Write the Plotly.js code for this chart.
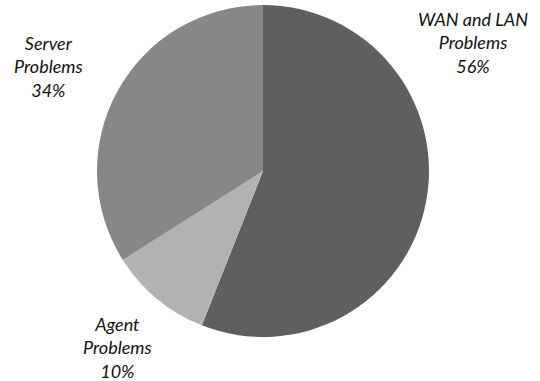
<!DOCTYPE html>
<html>
<head>
<meta charset="utf-8">
<script src="https://cdn.plot.ly/plotly-3.0.1.min.js"></script>
<style>html,body{margin:0;padding:0;background:#fff;}#chart{width:540px;height:381px;}</style>
</head>
<body>
<div id="chart"></div>
<script>
const categories = ["WAN and LAN Problems", "Agent Problems", "Server Problems"];
const labelLines = [["WAN and LAN", "Problems"], ["Agent", "Problems"], ["Server", "Problems"]];
const values = [56, 10, 34];
const colors = ["#5f5f5f", "#b2b2b2", "#878787"];
const labelPos = [[473, 42], [117, 347], [48, 66]];

const W = 540, H = 381;
const annotations = categories.map((c, i) => ({
  xref: "paper", yref: "paper",
  x: labelPos[i][0] / W, y: 1 - labelPos[i][1] / H,
  xanchor: "center", yanchor: "middle",
  showarrow: false, align: "center",
  text: "<i>" + labelLines[i].join("<br>") + "<br>" + values[i] + "%</i>",
  font: {family: "Lato, 'Open Sans', sans-serif", size: 18, color: "#111111"}
}));

Plotly.newPlot("chart", [{
  type: "pie",
  labels: categories,
  values: values,
  sort: false,
  direction: "clockwise",
  rotation: 0,
  marker: {colors: colors, line: {width: 0}},
  textinfo: "none",
  hoverinfo: "label+percent",
  domain: {x: [97 / W, 429 / W], y: [1 - 337 / H, 1 - 5 / H]}
}], {
  width: W, height: H,
  margin: {l: 0, r: 0, t: 0, b: 0},
  showlegend: false,
  paper_bgcolor: "#ffffff",
  annotations: annotations
}, {displayModeBar: false, staticPlot: true});
</script>
</body>
</html>
